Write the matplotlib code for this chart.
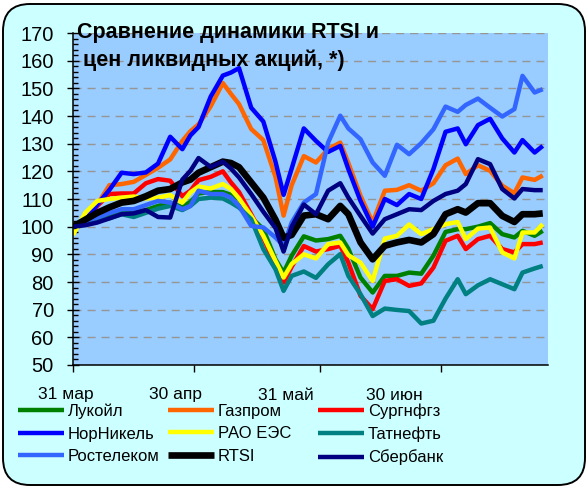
import datetime as dt
import matplotlib
matplotlib.use("Agg")
import matplotlib.pyplot as plt
import matplotlib.dates as mdates
from matplotlib.patches import FancyBboxPatch
from matplotlib.transforms import IdentityTransform

plt.rcParams['font.family'] = ['Liberation Sans', 'DejaVu Sans']

# ---------------- data (index, 31 Mar = 100) ----------------
start_date = dt.date(2006, 3, 31)
day_offsets = [0, 3, 6, 9, 12, 15, 18, 21, 24, 27, 29, 31, 34, 37, 39, 41, 44, 47, 50, 52,
               54, 57, 60, 63, 66, 68, 71, 74, 77, 80, 83, 86, 89, 92, 95, 97, 100, 103,
               106, 109, 111, 114, 116]

lukoil = [100, 101.5, 103, 104, 105.5, 105, 106, 107.5, 108.7, 107, 109, 112, 112.5, 112.5,
          111.5, 110, 103.3, 99.1, 88.2, 83.4, 89.5, 96.5, 95, 95.5, 96.7, 92, 81.6, 76.2,
          82.2, 82.2, 83.4, 83, 89.5, 98.1, 99.1, 99.1, 100, 101.3, 97.3, 96.1, 98.5, 96.7, 98.5]
gazprom = [100, 102, 108, 115, 115.4, 116.2, 118.7, 121.3, 124.3, 131, 134.5, 137, 143.5,
           151.9, 148, 144.3, 135.3, 131.3, 118, 104, 115, 125.5, 123.2, 128, 130.4, 123,
           111.2, 101.5, 113, 113.3, 115, 113, 115.7, 122.2, 124.6, 119, 122.2, 120.2, 114.8,
           112.1, 117.8, 116.9, 118.5]
surgut = [100, 102.5, 107.5, 111.8, 112, 112, 115.7, 117.2, 116.6, 111, 113, 116.8, 118, 120,
          116, 112.5, 104.5, 96, 85.8, 79.8, 85.5, 93, 91, 91.9, 93.1, 87, 75, 70.2, 80.4, 81,
          78.6, 79.5, 85.2, 94.9, 96.7, 91.9, 95.5, 96.7, 91.9, 90.7, 93.7, 93.7, 94.3]
nornickel = [100, 102, 108, 113.3, 119.5, 119, 119.6, 122.8, 132.5, 128, 133, 136, 147,
             154.6, 155.7, 157.3, 143, 138, 123.5, 111.5, 121, 135.5, 131, 127, 129.2, 120.8,
             109.3, 100, 110, 107.8, 111.8, 110, 120.8, 134.3, 135.5, 129.8, 136.7, 139,
             131.9, 126.8, 131.3, 126.8, 129.2]
raoees = [97, 105, 109.3, 110, 110.5, 110.9, 110.2, 110.5, 111.4, 108.7, 112.4, 114.5, 113.8,
          115.4, 113.6, 110.2, 103.9, 96.7, 87.6, 81.6, 86.5, 90, 88.5, 93.7, 94.3, 89.7, 87,
          80.4, 95.7, 96.7, 100.8, 97.3, 99.1, 100.9, 101.7, 95.5, 99.3, 99.7, 90.7, 88.5,
          97.9, 97.9, 100.9]
tatneft = [100, 101, 102, 103, 104.5, 103.5, 105, 106.5, 107.5, 106, 107.5, 110, 110.5, 110.2,
           108.7, 106.9, 102.7, 91.9, 84.6, 76.8, 82.2, 83.8, 81.5, 86.4, 90.1, 82.2, 75.6,
           67.7, 70.4, 69.9, 69.5, 65, 66, 74, 81, 75.6, 78.8, 81, 79.2, 77.4, 83.4, 84.9, 85.8]
rostelecom = [100, 102.1, 103.3, 104.9, 106.3, 106.3, 107.8, 109.3, 108.7, 106.3, 107.5, 113,
              111.8, 111.8, 110.5, 107.5, 100.3, 99.7, 96.1, 93.1, 101.5, 108.7, 111.8, 130.4,
              140.1, 135.5, 131.6, 123.2, 118.4, 129.6, 126.2, 130.2, 135.2, 143.4, 141.5, 144,
              146.3, 143, 139.8, 142.5, 154.5, 148.5, 149.7]
rtsi = [100, 102.5, 105, 107, 108.7, 109.3, 111, 113, 113.6, 116, 117, 119.5, 121.5, 123.5,
        123, 121.5, 116, 110.5, 102.5, 96, 97, 104, 104.5, 102.7, 107.5, 104.5, 94.3, 88.2,
        93.1, 94.3, 95.2, 94.3, 97.3, 104.5, 106.3, 105.1, 108.5, 108.5, 103.9, 101.7, 104.5,
        104.5, 104.8]
sberbank = [100, 100.5, 101.5, 103, 104.5, 104.8, 106, 103.5, 103.3, 117, 120.2, 124.8, 121.6,
            123.5, 121, 117.8, 111.8, 105.4, 99.5, 91, 100, 108, 104.5, 113, 115.7, 110.5,
            103.9, 97.5, 102.7, 104.5, 106.3, 106, 109.3, 111.8, 113, 115.4, 124.4, 122.6,
            113.6, 110.2, 113.6, 113.2, 113.2]

names = ["Лукойл", "Газпром", "Сургнфгз", "НорНикель", "РАО ЕЭС", "Татнефть",
         "Ростелеком", "RTSI", "Сбербанк"]
values = [lukoil, gazprom, surgut, nornickel, raoees, tatneft, rostelecom, rtsi, sberbank]
colors = ["#008000", "#FF6600", "#FF0000", "#0000FF", "#FFFF00", "#008080",
          "#3366FF", "#000000", "#000080"]

tick_dates = [dt.date(2006, 3, 31), dt.date(2006, 4, 30), dt.date(2006, 5, 31), dt.date(2006, 6, 30)]
tick_labels = ["31 мар", "30 апр", "31 май", "30 июн"]
y_ticks = list(range(50, 171, 10))

# ---------------- figure ----------------
W, H = 587, 486
fig = plt.figure(figsize=(W / 100, H / 100), dpi=100)
fig.patch.set_facecolor("white")

box = FancyBboxPatch((3, H - 485), 582, 481, boxstyle="round,pad=0,rounding_size=27",
                     transform=IdentityTransform(), facecolor="#CCFFFF",
                     edgecolor="black", linewidth=1.4, zorder=-5)
fig.add_artist(box)

ax = fig.add_axes([73 / W, 1 - 365 / H, (548 - 73) / W, (365 - 33) / H])
ax.set_facecolor("#99CCFF")

dates = [start_date + dt.timedelta(days=d) for d in day_offsets]
x0 = mdates.date2num(start_date)
lines = {}
for name, vals, col in zip(names, values, colors):
    lw = 4.8 if name == "RTSI" else 3.2
    ln, = ax.plot(dates, vals, color=col, lw=lw, solid_joinstyle="round",
                  solid_capstyle="butt", label=name)
    lines[name] = ln

ax.set_xlim(x0, x0 + 117.3)
ax.set_ylim(50, 170)

for s in ("top", "right"):
    ax.spines[s].set_visible(False)
for s in ("left", "bottom"):
    ax.spines[s].set_linewidth(1.1)
    ax.spines[s].set_color("black")

ax.set_yticks(y_ticks)
ax.set_yticks(list(range(50, 171, 2)), minor=True)
ax.tick_params(axis="y", which="major", direction="inout", length=8.6, width=1,
               pad=9.5, labelsize=14.5)
ax.tick_params(axis="y", which="minor", direction="in", length=3.6, width=1)
ax.yaxis.grid(True, which="major", color="#969696", linestyle=(0, (5.8, 4.3)), linewidth=1)
ax.set_axisbelow(True)

ax.set_xticks([mdates.date2num(d) for d in tick_dates])
ax.set_xticklabels([""] * len(tick_dates))
ax.xaxis.set_minor_locator(matplotlib.ticker.NullLocator())
ax.tick_params(axis="x", which="major", direction="out", length=5, width=1)

label_shift = [-7, -19, -34, -47]
for d, lab, sh in zip(tick_dates, tick_labels, label_shift):
    ax.annotate(lab, xy=(mdates.date2num(d), 0), xycoords=("data", "axes fraction"),
                xytext=(sh, -30), textcoords="offset pixels", ha="center", va="center",
                fontsize=12.5, annotation_clip=False)

# title
fig.text(77 / W, 1 - 38 / H, "Сравнение динамики RTSI и", fontsize=15.5, fontweight="bold",
         ha="left", va="baseline")
fig.text(83 / W, 1 - 66 / H, "цен ликвидных акций, *)", fontsize=15.5, fontweight="bold",
         ha="left", va="baseline")

# legend: three fixed-width columns
cols = [["Лукойл", "НорНикель", "Ростелеком"],
        ["Газпром", "РАО ЕЭС", "RTSI"],
        ["Сургнфгз", "Татнефть", "Сбербанк"]]
col_x = [18, 168, 318]
for cx, group in zip(col_x, cols):
    fig.legend([lines[n] for n in group], group, loc="upper left",
               bbox_to_anchor=(cx / W, 1 - 403.5 / H), frameon=False, fontsize=12,
               borderpad=0, borderaxespad=0, handlelength=2.75, handletextpad=0.25,
               labelspacing=0.45)

fig.savefig("out.png", dpi=100)
